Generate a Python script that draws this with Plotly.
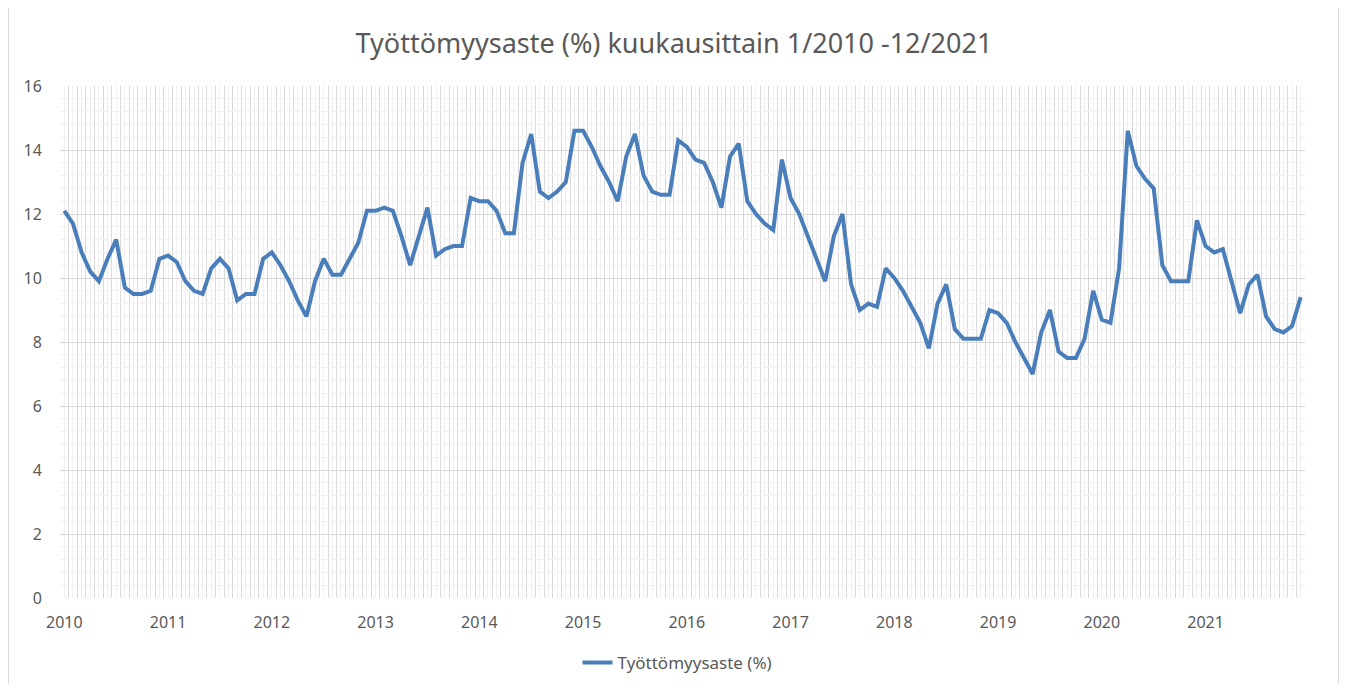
import plotly.graph_objects as go

# monthly unemployment rate (%), 1/2010 .. 12/2021
Y2010 = [12.1, 11.7, 10.8, 10.2, 9.9, 10.6, 11.2, 9.7, 9.5, 9.5, 9.6, 10.6]
Y2011 = [10.7, 10.5, 9.9, 9.6, 9.5, 10.3, 10.6, 10.3, 9.3, 9.5, 9.5, 10.6]
Y2012 = [10.8, 10.4, 9.9, 9.3, 8.8, 9.9, 10.6, 10.1, 10.1, 10.6, 11.1, 12.1]
Y2013 = [12.1, 12.2, 12.1, 11.3, 10.4, 11.3, 12.2, 10.7, 10.9, 11.0, 11.0, 12.5]
Y2014 = [12.4, 12.4, 12.1, 11.4, 11.4, 13.6, 14.5, 12.7, 12.5, 12.7, 13.0, 14.6]
Y2015 = [14.6, 14.1, 13.5, 13.0, 12.4, 13.8, 14.5, 13.2, 12.7, 12.6, 12.6, 14.3]
Y2016 = [14.1, 13.7, 13.6, 13.0, 12.2, 13.8, 14.2, 12.4, 12.0, 11.7, 11.5, 13.7]
Y2017 = [12.5, 12.0, 11.3, 10.6, 9.9, 11.3, 12.0, 9.8, 9.0, 9.2, 9.1, 10.3]
Y2018 = [10.0, 9.6, 9.1, 8.6, 7.8, 9.2, 9.8, 8.4, 8.1, 8.1, 8.1, 9.0]
Y2019 = [8.9, 8.6, 8.0, 7.5, 7.0, 8.3, 9.0, 7.7, 7.5, 7.5, 8.1, 9.6]
Y2020 = [8.7, 8.6, 10.3, 14.6, 13.5, 13.1, 12.8, 10.4, 9.9, 9.9, 9.9, 11.8]
Y2021 = [11.0, 10.8, 10.9, 9.9, 8.9, 9.8, 10.1, 8.8, 8.4, 8.3, 8.5, 9.4]

YEARS = list(range(2010, 2022))
VALUES = (Y2010 + Y2011 + Y2012 + Y2013 + Y2014 + Y2015
          + Y2016 + Y2017 + Y2018 + Y2019 + Y2020 + Y2021)

SERIES = "Työttömyysaste (%)"
TITLE = "Työttömyysaste (%) kuukausittain 1/2010 -12/2021"

FONT = "Noto Sans"
GREY = "#595959"
BLUE = "#4a7ebb"

# page body has an 8px margin, so the figure is sized to fit inside it
W, H = 1332, 676
ML, MR, MT, MB = 52, 35, 78, 86
PW, PH = W - ML - MR, H - MT - MB

n = len(VALUES)
# month k sits in the middle of its category slot
xs = [k + 0.5 for k in range(n)]
# a (light) gridline through every month centre, year label on January
tick_text = [str(YEARS[k // 12]) if k % 12 == 0 else "" for k in range(n)]

fig = go.Figure()
fig.add_trace(go.Scatter(
    x=xs, y=VALUES, mode="lines", name=SERIES,
    line=dict(color=BLUE, width=4),
))

fig.update_layout(
    width=W, height=H,
    paper_bgcolor="white", plot_bgcolor="white",
    margin=dict(l=ML, r=MR, t=MT, b=MB, autoexpand=False),
    font=dict(family=FONT, color=GREY, size=16),
    title=dict(text=TITLE, x=0.5, xanchor="center", y=1 - 36 / H, yanchor="middle",
               font=dict(family=FONT, size=27, color=GREY)),
    showlegend=True,
    legend=dict(orientation="h", x=0.496, xanchor="center", y=-65 / PH, yanchor="middle",
                font=dict(size=17, color=GREY)),
    xaxis=dict(range=[0, n], tickmode="array", tickvals=xs, ticktext=tick_text,
               showgrid=True, gridcolor="#f0f0f0", gridwidth=1,
               zeroline=False, showline=False,
               ticks="outside", ticklen=10, tickcolor="rgba(0,0,0,0)",
               tickfont=dict(size=16, color=GREY),
               # category boundaries: darker lines
               minor=dict(tickmode="linear", tick0=0, dtick=1, showgrid=True,
                          gridcolor="#d9d9d9", ticks="")),
    yaxis=dict(range=[0, 16], tickmode="linear", tick0=0, dtick=2,
               showgrid=True, gridcolor="#d9d9d9", zeroline=False, showline=False,
               ticks="outside", ticklen=14, tickcolor="rgba(0,0,0,0)",
               tickfont=dict(size=16, color=GREY),
               minor=dict(tickmode="linear", tick0=0, dtick=0.4, showgrid=True,
                          gridcolor="#f2f2f2", ticks="")),
)

# chart-area border (left and right edges)
for xp in (0.5, W - 1.5):
    fig.add_shape(type="line", xref="paper", yref="paper",
                  x0=(xp - ML) / PW, x1=(xp - ML) / PW,
                  y0=-MB / PH, y1=(PH + MT) / PH,
                  line=dict(color="#d9d9d9", width=1), layer="below")

fig.write_html("out.html")
